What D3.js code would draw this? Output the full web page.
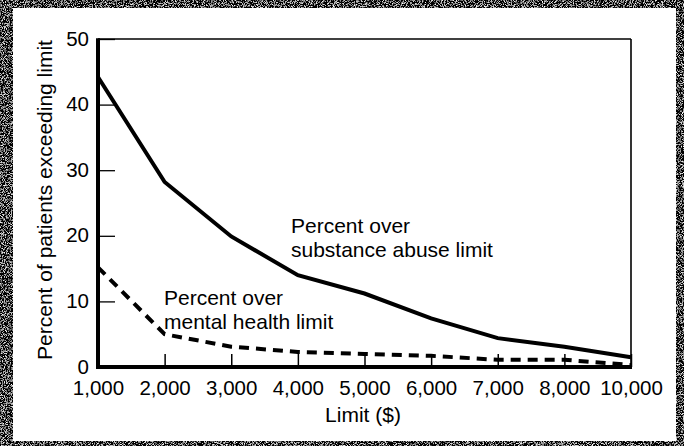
<!DOCTYPE html>
<html>
<head>
<meta charset="utf-8">
<script src="https://cdn.jsdelivr.net/npm/d3@7"></script>
<style>
  html, body { margin: 0; padding: 0; background: #fff; }
  svg { display: block; }
  text { font-family: "Liberation Sans", Arial, Helvetica, sans-serif; fill: #000; }
</style>
</head>
<body>
<svg id="chart" width="684" height="446"></svg>
<script>
// ---- data ----
const limits = ["1,000", "2,000", "3,000", "4,000", "5,000", "6,000", "7,000", "8,000", "10,000"];
const substanceAbuse = [44.2, 28.2, 19.9, 14.0, 11.2, 7.4, 4.4, 3.1, 1.5];
const mentalHealth = [15.2, 5.0, 3.1, 2.3, 2.0, 1.7, 1.1, 1.1, 0.3];
const yTicks = [0, 10, 20, 30, 40, 50];
const yLabel = "Percent of patients exceeding limit";
const xLabel = "Limit ($)";
const substanceLabel = ["Percent over", "substance abuse limit"];
const mentalLabel = ["Percent over", "mental health limit"];

// ---- layout ----
const W = 684, H = 446;
const plot = { left: 98, right: 631, top: 39, bottom: 367 };
const svg = d3.select("#chart");

// scanned-looking dark border
const defs = svg.append("defs");
const f = defs.append("filter").attr("id", "noise").attr("x", 0).attr("y", 0).attr("width", "100%").attr("height", "100%");
f.append("feTurbulence").attr("type", "fractalNoise").attr("baseFrequency", 1.1).attr("numOctaves", 2).attr("seed", 3).attr("result", "t");
f.append("feColorMatrix").attr("in", "t").attr("type", "matrix")
  .attr("values", "3 0 0 0 -1.45  3 0 0 0 -1.45  3 0 0 0 -1.45  0 0 0 0 1");
svg.append("rect").attr("width", W).attr("height", H).attr("fill", "#1e1e1e");
svg.append("rect").attr("width", W).attr("height", H).attr("filter", "url(#noise)");
svg.append("rect").attr("x", 13).attr("y", 8).attr("width", 663).attr("height", 433).attr("fill", "#fff");

// ---- scales ----
const x = d3.scalePoint().domain(limits).range([plot.left, plot.right]);
const y = d3.scaleLinear().domain([0, 50]).range([plot.bottom, plot.top]);

// ---- axes ----
const yAxis = d3.axisLeft(y).tickValues(yTicks).tickSizeInner(-17).tickSizeOuter(0).tickPadding(9);
const gy = svg.append("g").attr("transform", `translate(${plot.left},0)`).call(yAxis);
gy.select(".domain").remove();
gy.selectAll(".tick line").attr("stroke", "#000").attr("stroke-width", 1.3);
gy.selectAll(".tick text").attr("font-size", 20.5).attr("dy", "0.3em");

const xAxis = d3.axisBottom(x).tickSizeInner(-13).tickSizeOuter(0).tickPadding(13);
const gx = svg.append("g").attr("transform", `translate(0,${plot.bottom})`).call(xAxis);
gx.select(".domain").remove();
gx.selectAll(".tick line").attr("stroke", "#000").attr("stroke-width", 1.5);
gx.selectAll(".tick text").attr("font-size", 20.5);

// frame: thin top/right, thick left/bottom
svg.append("line").attr("x1", plot.left).attr("x2", plot.right).attr("y1", plot.top).attr("y2", plot.top)
  .attr("stroke", "#000").attr("stroke-width", 1.6);
svg.append("line").attr("x1", plot.right).attr("x2", plot.right).attr("y1", plot.top).attr("y2", plot.bottom)
  .attr("stroke", "#000").attr("stroke-width", 1.6);
svg.append("line").attr("x1", plot.left).attr("x2", plot.left).attr("y1", plot.top - 0.8).attr("y2", plot.bottom + 2)
  .attr("stroke", "#000").attr("stroke-width", 4);
svg.append("line").attr("x1", plot.left - 2).attr("x2", plot.right + 1).attr("y1", plot.bottom).attr("y2", plot.bottom)
  .attr("stroke", "#000").attr("stroke-width", 4);

// ---- lines ----
const line = d3.line().x((d, i) => x(limits[i])).y(d => y(d));
svg.append("path").datum(mentalHealth).attr("d", line)
  .attr("fill", "none").attr("stroke", "#000").attr("stroke-width", 4)
  .attr("stroke-dasharray", "10,7");
svg.append("path").datum(substanceAbuse).attr("d", line)
  .attr("fill", "none").attr("stroke", "#000").attr("stroke-width", 4)
  .attr("stroke-linejoin", "miter");

// ---- labels ----
function block(lines, xPos, yBase) {
  const t = svg.append("text").attr("x", xPos).attr("y", yBase).attr("font-size", 21);
  lines.forEach((s, i) => t.append("tspan").attr("x", xPos).attr("dy", i === 0 ? 0 : 24).text(s));
}
block(substanceLabel, 291, 233);
block(mentalLabel, 164, 305);

svg.append("text").attr("x", 363).attr("y", 422)
  .attr("text-anchor", "middle").attr("font-size", 21).text(xLabel);
svg.append("text").attr("transform", `translate(52,200) rotate(-90)`)
  .attr("text-anchor", "middle").attr("font-size", 21).text(yLabel);
</script>
</body>
</html>
